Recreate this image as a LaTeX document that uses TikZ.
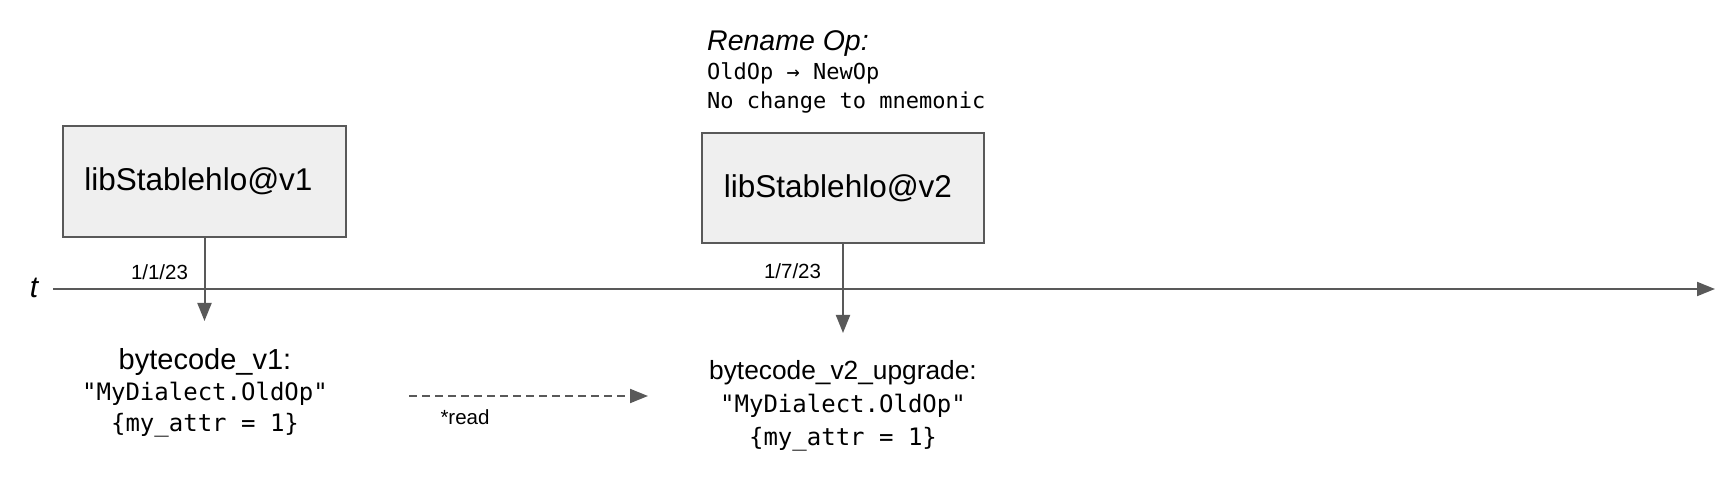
\documentclass[tikz,border=0pt]{standalone}
\usepackage{fontspec}
\setmainfont{Liberation Sans}
\setmonofont{DejaVu Sans Mono}
\usetikzlibrary{arrows.meta}
\definecolor{linegray}{HTML}{595959}
\definecolor{boxfill}{HTML}{EFEFEF}
\begin{document}
\begin{tikzpicture}[x=1pt,y=-1pt,
  libbox/.style={draw=linegray, fill=boxfill, line width=2pt, minimum width=283pt, minimum height=111pt, inner sep=0pt, font=\fontsize{31.5}{36}\selectfont},
  conn/.style={draw=linegray, line width=2pt, -{Triangle[length=18pt,width=14pt]}},
  small/.style={font=\fontsize{20.5}{24}\selectfont, inner sep=0pt},
  code/.style={align=center, inner sep=0pt, font=\ttfamily\fontsize{24}{31}\selectfont},
  note/.style={anchor=base west, inner sep=0pt}]
\useasboundingbox (0,0) rectangle (1732,486);
% boxes
\node[libbox] (v1) at (204.5,181.5) {libStablehlo@v1\hspace*{12pt}};
\node[libbox, minimum width=282pt, minimum height=110pt] (v2) at (843,188) {libStablehlo@v2\hspace*{10pt}};
% timeline
\coordinate (tstart) at (53,289);
\coordinate (tend) at (1715,289);
\draw[conn] (tstart) -- (tend);
\node[font=\fontsize{30}{34}\selectfont\itshape, inner sep=0pt] (t) at (34,288) {t};
% release arrows
\coordinate (a1) at (204.5,321);
\draw[conn] (v1.south) -- (a1);
\coordinate (a2) at (843,333);
\draw[conn] (v2.south) -- (a2);
\node[small] (d1) at (159.5,272) {1/1/23};
\node[small] (d2) at (792.5,271) {1/7/23};
% bytecode
\node[code] (bc1) at (205,393) {{\rmfamily\fontsize{29}{31}\selectfont bytecode\_v1:}\\"MyDialect.OldOp"\\\{my\_attr = 1\}};
\node[code] (bc2) at (843,406) {{\rmfamily\fontsize{26.3}{31}\selectfont bytecode\_v2\_upgrade:}\\[2pt]"MyDialect.OldOp"\\[2pt]\{my\_attr = 1\}};
% read arrow
\coordinate (r0) at (409,396);
\coordinate (r1) at (648,396);
\draw[conn, dash pattern=on 8pt off 5pt] (r0) -- (r1);
\node[small] (read) at (465,417) {*read};
% rename note
\node[note, font=\fontsize{28.5}{32}\selectfont\itshape] (rn) at (707,51) {Rename Op:};
\node[note, font=\ttfamily\fontsize{22}{26}\selectfont] (rn1) at (707,80) {OldOp → NewOp};
\node[note, font=\ttfamily\fontsize{22}{26}\selectfont] (rn2) at (707,109) {No change to mnemonic};
\end{tikzpicture}
\end{document}
